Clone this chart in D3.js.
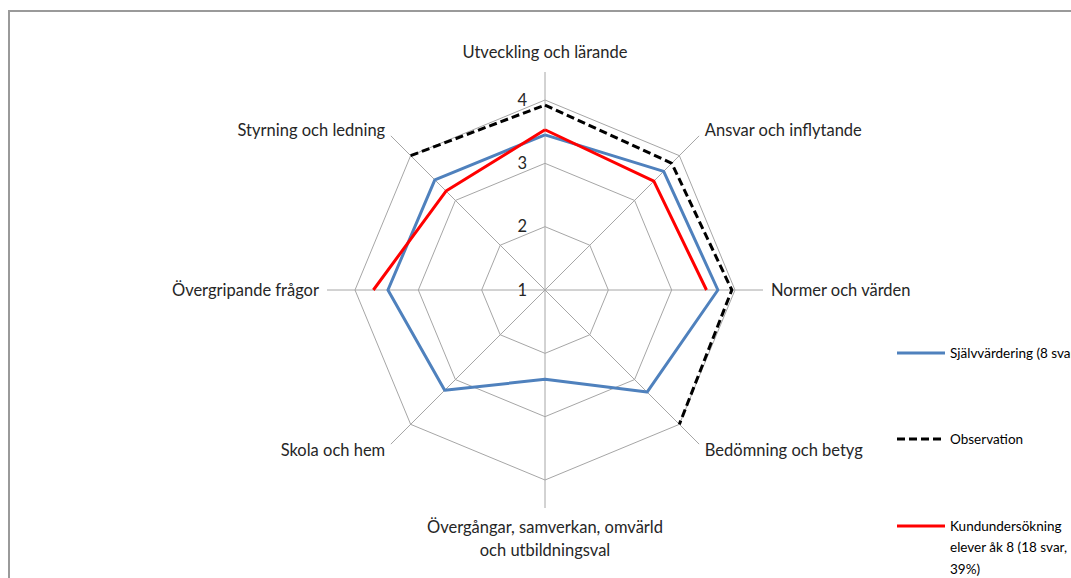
<!DOCTYPE html>
<meta charset="utf-8">
<title>Radar</title>
<style>
body { margin: 0; background: #fff; }
svg { display: block; font-family: Lato, "Open Sans", sans-serif; }
.grid { fill: none; stroke: #a6a6a6; stroke-width: 1; }
.axis-label { font-size: 16.5px; fill: #262626; }
.tick-label { font-size: 16.5px; fill: #262626; }
.legend text { font-size: 13.5px; fill: #000; }
</style>
<body>
<script src="https://cdnjs.cloudflare.com/ajax/libs/d3/7.8.5/d3.min.js"></script>
<script>

// axis categories, clockwise from the top
var categories = [
  "Utveckling och lärande",
  "Ansvar och inflytande",
  "Normer och värden",
  "Bedömning och betyg",
  "Övergångar, samverkan, omvärld|och utbildningsval",
  "Skola och hem",
  "Övergripande frågor",
  "Styrning och ledning"
];

// series values (null = no value)
var selfAssessment = [3.45, 3.65, 3.73, 3.28, 2.41, 3.24, 3.48, 3.46];
var observation    = [3.92, 3.83, 3.95, 4.0, null, null, null, 4.0];
var survey         = [3.53, 3.43, 3.55, null, null, null, 3.71, 3.21];

var seriesNames = ["Självvärdering (8 svar)", "Observation", "Kundundersökning|elever åk 8 (18 svar,|39%)"];

var ticks = [1, 2, 3, 4];

var width = 1071, height = 578;
var cx = 545, cy = 290;

var svg = d3.select("body").append("svg")
    .attr("width", width)
    .attr("height", height);

// chart frame
svg.append("rect")
    .attr("x", 9).attr("y", 11)
    .attr("width", 1100).attr("height", 600)
    .attr("fill", "none")
    .attr("stroke", "#9a9a9a")
    .attr("stroke-width", 2);

var r = d3.scaleLinear().domain([1, 4]).range([0, 190]);
var n = categories.length;
function angle(i) { return i * 2 * Math.PI / n; }   // 0 = up, clockwise
function px(i, v) { return cx + Math.sin(angle(i)) * r(v); }
function py(i, v) { return cy - Math.cos(angle(i)) * r(v); }

var g = svg.append("g");

// rings
ticks.slice(1).forEach(function(t) {
  var pts = d3.range(n).map(function(i) { return [px(i, t), py(i, t)]; });
  g.append("path")
      .attr("class", "grid")
      .attr("d", d3.line().curve(d3.curveLinearClosed)(pts));
});

// spokes, reaching past the outer ring
var spokeLen = r(4) + 28;
d3.range(n).forEach(function(i) {
  g.append("line")
      .attr("class", "grid")
      .attr("x1", cx).attr("y1", cy)
      .attr("x2", cx + Math.sin(angle(i)) * spokeLen)
      .attr("y2", cy - Math.cos(angle(i)) * spokeLen);
});

// tick labels along the top spoke
g.selectAll(".tick-label")
    .data(ticks)
    .enter().append("text")
    .attr("class", "tick-label")
    .attr("x", cx - 18)
    .attr("y", function(d) { return cy - r(d); })
    .attr("dy", "0.35em")
    .attr("text-anchor", "end")
    .text(function(d) { return d; });

// category labels
categories.forEach(function(c, i) {
  var s = Math.sin(angle(i)), k = Math.cos(angle(i));
  var lr = spokeLen + 8;
  var x = cx + s * lr, y = cy - k * lr;
  var anchor = s > 0.1 ? "start" : (s < -0.1 ? "end" : "middle");
  if (Math.abs(s) < 0.1) y = k > 0 ? y - 12 : y + 11;
  var lines = c.split("|");
  var t = g.append("text")
      .attr("class", "axis-label")
      .attr("text-anchor", anchor)
      .attr("x", x).attr("y", y);
  lines.forEach(function(l, j) {
    t.append("tspan")
        .attr("x", x)
        .attr("y", y + j * 23)
        .attr("dy", "0.35em")
        .text(l);
  });
});

// series lines; repeat first point to close the ring, nulls make gaps
var line = d3.line()
    .defined(function(d) { return d.v != null; })
    .x(function(d) { return px(d.i, d.v); })
    .y(function(d) { return py(d.i, d.v); });

function ring(values) {
  var pts = values.map(function(v, i) { return {i: i, v: v}; });
  pts.push({i: 0, v: values[0]});
  return pts;
}

var series = [
  {values: selfAssessment, color: "#4f81bd", dash: null},
  {values: observation,    color: "#000000", dash: "8,4"},
  {values: survey,         color: "#ff0000", dash: null}
];

series.forEach(function(s) {
  g.append("path")
      .attr("d", line(ring(s.values)))
      .attr("fill", "none")
      .attr("stroke", s.color)
      .attr("stroke-width", 3)
      .attr("stroke-linejoin", "round")
      .attr("stroke-dasharray", s.dash);
});

// legend
var legendY = [353, 439, 526];
var legend = svg.append("g").attr("class", "legend");
series.forEach(function(s, i) {
  legend.append("line")
      .attr("x1", 897).attr("x2", 945)
      .attr("y1", legendY[i]).attr("y2", legendY[i])
      .attr("stroke", s.color)
      .attr("stroke-width", 3)
      .attr("stroke-dasharray", s.dash);
  var t = legend.append("text").attr("x", 950).attr("y", legendY[i]);
  seriesNames[i].split("|").forEach(function(l, j) {
    t.append("tspan")
        .attr("x", 950)
        .attr("y", legendY[i] + j * 21.5)
        .attr("dy", "0.35em")
        .text(l);
  });
});

</script>
</body>
